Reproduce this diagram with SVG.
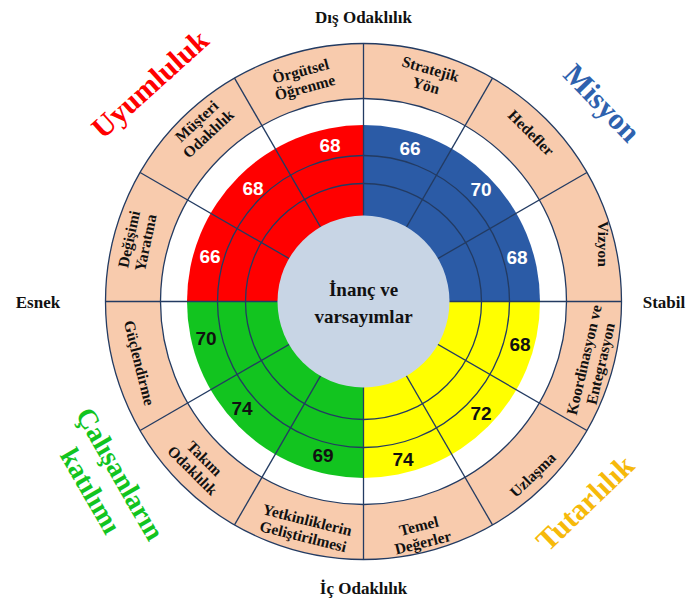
<svg xmlns="http://www.w3.org/2000/svg" width="689" height="603" viewBox="0 0 689 603">
<style>
.ln{stroke:#233b62;stroke-width:1.3;fill:none}
.seg{font-family:"Liberation Serif","Times New Roman",serif;font-weight:bold;font-size:15.5px;fill:#111;text-anchor:middle}
.num{font-family:"Liberation Sans",Arial,sans-serif;font-weight:bold;font-size:19px;text-anchor:middle}
.ax{font-family:"Liberation Serif","Times New Roman",serif;font-weight:bold;font-size:17px;fill:#111;text-anchor:middle}
.big{font-family:"Liberation Serif","Times New Roman",serif;font-weight:bold;font-size:30px;text-anchor:middle}
.w{fill:#ffffff}.k{fill:#111111}
</style>
<rect width="689" height="603" fill="#ffffff"/>
<g id="wheel" transform="translate(363.5,301.5)">
  <circle r="258" class="ln" style="fill:#F8CBAD"/>
  <circle r="203" class="ln" style="fill:#ffffff"/>
  <path id="q-blue" d="M0,0 L0,-176.5 A176.5,176.5 0 0 1 176.5,0 Z" fill="#2B5BA6"/>
  <path id="q-yellow" d="M0,0 L176.5,0 A176.5,176.5 0 0 1 0,176.5 Z" fill="#FFFF00"/>
  <path id="q-green" d="M0,0 L0,176.5 A176.5,176.5 0 0 1 -176.5,0 Z" fill="#12C41F"/>
  <path id="q-red" d="M0,0 L-176.5,0 A176.5,176.5 0 0 1 0,-176.5 Z" fill="#FF0000"/>
  <circle r="118" class="ln"/>
  <circle r="146" class="ln"/>
  <g id="connectors" class="ln">
    <line x1="0" y1="-258" x2="0" y2="258"/>
    <line x1="129" y1="-223.4" x2="-129" y2="223.4"/>
    <line x1="223.4" y1="-129" x2="-223.4" y2="129"/>
    <line x1="258" y1="0" x2="-258" y2="0"/>
    <line x1="223.4" y1="129" x2="-223.4" y2="-129"/>
    <line x1="129" y1="223.4" x2="-129" y2="-223.4"/>
  </g>
  <circle id="core" r="86" fill="#C8D5E5"/>
</g>
<g id="center-label">
  <text class="ax" style="font-size:19px" x="363.5" y="296">İnanç ve</text>
  <text class="ax" style="font-size:19px" x="363.5" y="323">varsayımlar</text>
</g>
<g id="segments">
  <g id="s-stratejik" transform="translate(428,78) rotate(16)"><text class="seg"><tspan x="0" y="-4">Stratejik</tspan><tspan x="0" y="13">Yön</tspan></text></g>
  <g id="s-hedefler" transform="translate(531,133) rotate(45)"><text class="seg" x="0" y="5">Hedefler</text></g>
  <g id="s-vizyon" transform="translate(603,244) rotate(90)"><text class="seg" x="0" y="5">Vizyon</text></g>
  <g id="s-koord" transform="translate(593,362) rotate(-77)"><text class="seg"><tspan x="0" y="-4">Koordinasyon ve</tspan><tspan x="0" y="13">Entegrasyon</tspan></text></g>
  <g id="s-uzlasma" transform="translate(533,475) rotate(-44)"><text class="seg" x="0" y="5">Uzlaşma</text></g>
  <g id="s-temel" transform="translate(421,535) rotate(-14)"><text class="seg"><tspan x="0" y="-4">Temel</tspan><tspan x="0" y="13">Değerler</tspan></text></g>
  <g id="s-yetkin" transform="translate(305,529) rotate(14)"><text class="seg"><tspan x="0" y="-4">Yetkinliklerin</tspan><tspan x="0" y="13">Geliştirilmesi</tspan></text></g>
  <g id="s-takim" transform="translate(198,465) rotate(45)"><text class="seg"><tspan x="0" y="-4">Takım</tspan><tspan x="0" y="13">Odaklılık</tspan></text></g>
  <g id="s-guc" transform="translate(139,363) rotate(76)"><text class="seg" x="0" y="5">Güçlendirme</text></g>
  <g id="s-degisim" transform="translate(138,241) rotate(-78)"><text class="seg"><tspan x="0" y="-4">Değişimi</tspan><tspan x="0" y="13">Yaratma</tspan></text></g>
  <g id="s-musteri" transform="translate(203,128) rotate(-43)"><text class="seg"><tspan x="0" y="-4">Müşteri</tspan><tspan x="0" y="13">Odaklılık</tspan></text></g>
  <g id="s-orgutsel" transform="translate(303,80) rotate(-15)"><text class="seg"><tspan x="0" y="-4">Örgütsel</tspan><tspan x="0" y="13">Öğrenme</tspan></text></g>
</g>
<g id="scores">
  <text class="num w" x="330" y="152">68</text>
  <text class="num w" x="253" y="195">68</text>
  <text class="num w" x="210" y="263">66</text>
  <text class="num w" x="410" y="155">66</text>
  <text class="num w" x="481" y="196">70</text>
  <text class="num w" x="517" y="264">68</text>
  <text class="num k" x="520" y="351">68</text>
  <text class="num k" x="481" y="420">72</text>
  <text class="num k" x="403" y="466">74</text>
  <text class="num k" x="206" y="345">70</text>
  <text class="num k" x="242" y="415">74</text>
  <text class="num k" x="323" y="462">69</text>
</g>
<g id="axes">
  <text class="ax" x="363.5" y="23">Dış Odaklılık</text>
  <text class="ax" x="363.5" y="594">İç Odaklılık</text>
  <text class="ax" x="38" y="308">Esnek</text>
  <text class="ax" x="664" y="308">Stabil</text>
</g>
<g id="dimensions">
  <text class="big" fill="#FF0000" transform="translate(150,84) rotate(-42)" y="10">Uyumluluk</text>
  <text class="big" fill="#2E62AE" transform="translate(602,103) rotate(46)" y="10">Misyon</text>
  <text class="big" fill="#F6B90A" transform="translate(585,503) rotate(-44)" y="10">Tutarlılık</text>
  <g transform="translate(106,482) rotate(60)"><text class="big" fill="#12C41F" style="font-size:28px"><tspan x="0" y="-7">Çalışanların</tspan><tspan x="0" y="27">katılımı</tspan></text></g>
</g>
</svg>
